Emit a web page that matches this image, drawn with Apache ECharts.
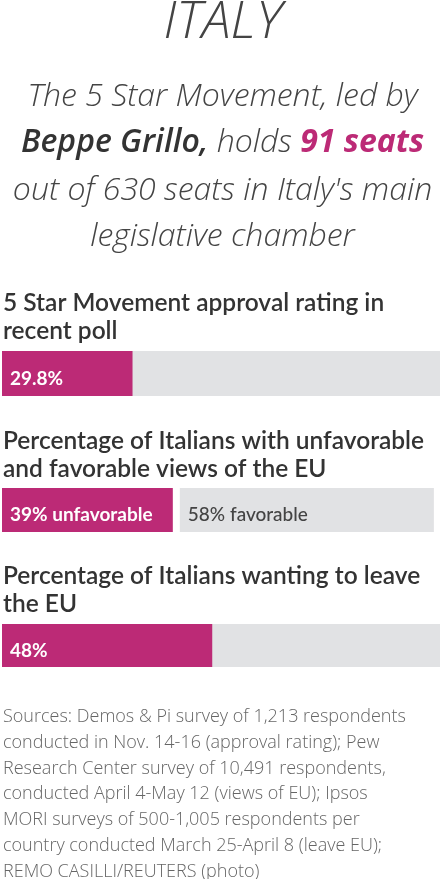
<!DOCTYPE html>
<html>
<head>
<meta charset="utf-8">
<script src="https://cdn.jsdelivr.net/npm/echarts@6/dist/echarts.min.js"></script>
<style>
  html, body { margin: 0; padding: 0; background: #fff; }
  #chart { width: 445px; height: 879px; }
</style>
</head>
<body>
<div id="chart"></div>
<script>
const approval = [29.8]
const unfavorable = [39]
const favorable = [58]
const leaveEU = [48]
const seatsHeld = 91
const seatsTotal = 630

const PINK = '#bc2a76'
const GRAY = '#e1e2e4'
const GAP = 1.6 // white space between the two EU bars, in % units

const chart = echarts.init(document.getElementById('chart'))

const head = { fontFamily: 'Open Sans', fontStyle: 'italic', fontWeight: 300, color: '#444' }
const section = { fontFamily: 'Lato', fontWeight: 600, fontSize: 24.5, color: '#333', lineHeight: 28 }

const subLines = [
  'The 5 Star Movement, led by',
  '{b|Beppe Grillo,} holds {p|' + seatsHeld + ' seats}',
  'out of ' + seatsTotal + ' seats in Italy\'s main',
  'legislative chamber'
]
const subTops = [73, 119, 167, 213]

const grids = [
  { left: 2, width: 438, top: 351, height: 45 },
  { left: 2, width: 438, top: 488, height: 44 },
  { left: 2, width: 438, top: 624, height: 43 }
]

const valueLabel = (color, fmt) => ({
  show: true,
  position: 'insideLeft',
  offset: [3, 5],
  fontFamily: 'Lato',
  fontWeight: 'bold',
  fontSize: 19,
  color: color,
  formatter: fmt
})

const option = {
  backgroundColor: '#fff',
  animation: false,
  title: [
    {
      text: 'ITALY',
      left: 'center', top: -7, padding: 0,
      textStyle: Object.assign({}, head, { fontSize: 52, lineHeight: 60 })
    }
  ].concat(subLines.map((t, i) => ({
    text: t,
    left: 'center', top: subTops[i], padding: 0,
    textStyle: Object.assign({}, head, {
      fontSize: 32, lineHeight: 47,
      rich: {
        b: { fontFamily: 'Open Sans', fontStyle: 'italic', fontWeight: 600, fontSize: 32, lineHeight: 47, color: '#333' },
        p: { fontFamily: 'Open Sans', fontStyle: 'italic', fontWeight: 'bold', fontSize: 32, lineHeight: 47, color: PINK }
      }
    })
  }))).concat([
    {
      text: '5 Star Movement approval rating in\nrecent poll',
      left: 3, top: 289, padding: 0, textStyle: section
    },
    {
      text: 'Percentage of Italians with unfavorable\nand favorable views of the EU',
      left: 3, top: 427, padding: 0, textStyle: section
    },
    {
      text: 'Percentage of Italians wanting to leave\nthe EU',
      left: 3, top: 562, padding: 0, textStyle: section
    },
    {
      text: [
        'Sources: Demos & Pi survey of 1,213 respondents',
        'conducted in Nov. 14-16 (approval rating); Pew',
        'Research Center survey of 10,491 respondents,',
        'conducted April 4-May 12 (views of EU); Ipsos',
        'MORI surveys of 500-1,005 respondents per',
        'country conducted March 25-April 8 (leave EU);',
        'REMO CASILLI/REUTERS (photo)'
      ].join('\n'),
      left: 3, top: 704, padding: 0,
      textStyle: { fontFamily: 'Open Sans', fontWeight: 300, fontSize: 18, lineHeight: 25.8, color: '#666' }
    }
  ]),
  grid: grids,
  xAxis: grids.map((g, i) => ({ type: 'value', gridIndex: i, min: 0, max: 100, show: false })),
  yAxis: grids.map((g, i) => ({ type: 'category', gridIndex: i, data: [''], show: false })),
  series: [
    {
      type: 'bar', xAxisIndex: 0, yAxisIndex: 0, barWidth: 45,
      data: approval,
      itemStyle: { color: PINK },
      showBackground: true, backgroundStyle: { color: GRAY },
      label: valueLabel('#fff', p => p.value + '%')
    },
    {
      type: 'bar', xAxisIndex: 1, yAxisIndex: 1, barWidth: 44, stack: 'eu',
      data: unfavorable,
      itemStyle: { color: PINK },
      label: valueLabel('#fff', p => p.value + '% unfavorable')
    },
    {
      type: 'bar', xAxisIndex: 1, yAxisIndex: 1, barWidth: 44, stack: 'eu',
      data: [GAP], silent: true,
      itemStyle: { color: 'transparent' }
    },
    {
      type: 'bar', xAxisIndex: 1, yAxisIndex: 1, barWidth: 44, stack: 'eu',
      data: favorable,
      itemStyle: { color: GRAY },
      label: Object.assign(valueLabel('#444', p => p.value + '% favorable'), { fontWeight: 500 })
    },
    {
      type: 'bar', xAxisIndex: 2, yAxisIndex: 2, barWidth: 43,
      data: leaveEU,
      itemStyle: { color: PINK },
      showBackground: true, backgroundStyle: { color: GRAY },
      label: valueLabel('#fff', p => p.value + '%')
    }
  ]
}

chart.setOption(option)
</script>
</body>
</html>
